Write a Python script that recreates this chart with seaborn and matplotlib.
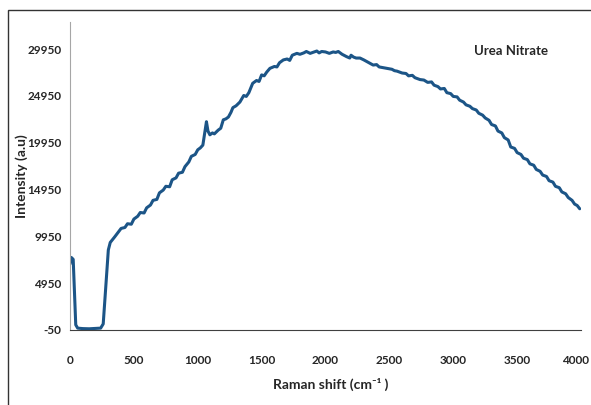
import numpy as np
import pandas as pd
import matplotlib
matplotlib.use("Agg")
import matplotlib.pyplot as plt
import matplotlib.transforms as mtransforms
from matplotlib.patches import Rectangle
import seaborn as sns

# ==========================================
# 1. DATA
# ==========================================
raman_shift = [
    0, 10, 25, 35, 45, 60, 100, 150, 200, 240, 260, 280, 300, 315, 350,
    400, 430, 450, 480, 500, 530, 550, 580, 600, 630, 650, 680, 700, 730,
    750, 780, 800, 830, 850, 880, 900, 930, 950, 980, 1000, 1020, 1040,
    1055, 1068, 1080, 1095, 1115, 1130, 1160, 1180, 1200, 1220, 1240,
    1260, 1275, 1300, 1330, 1360, 1380, 1400, 1430, 1460, 1480, 1500,
    1520, 1540, 1565, 1600, 1620, 1640, 1670, 1700, 1720, 1740, 1776,
    1800, 1830, 1850, 1880, 1900, 1932, 1950, 1970, 2000, 2030, 2060,
    2080, 2100, 2130, 2165, 2190, 2200, 2220, 2240, 2270, 2300, 2320,
    2340, 2373, 2400, 2420, 2440, 2480, 2520, 2540, 2560, 2600, 2630,
    2650, 2680, 2700, 2740, 2770, 2800, 2830, 2850, 2880, 2900, 2930,
    2950, 2980, 3000, 3030, 3050, 3080, 3100, 3130, 3150, 3180, 3200,
    3230, 3250, 3280, 3300, 3330, 3350, 3380, 3400, 3430, 3450, 3480,
    3500, 3530, 3550, 3580, 3600, 3630, 3650, 3680, 3700, 3730, 3750,
    3780, 3800, 3830, 3850, 3880, 3900, 3930, 3950, 3970, 3990,
]
intensity = [
    7000, 7700, 7500, 4000, 500, 150, 100, 80, 120, 150, 600, 4500, 8500,
    9300, 9900, 10800, 10900, 11300, 11250, 11800, 12100, 12500, 12450,
    13000, 13300, 13800, 13900, 14600, 14900, 15300, 15250, 16000, 16200,
    16700, 16800, 17400, 17900, 18500, 18700, 19200, 19400, 19700, 21000,
    22200, 21200, 20800, 21000, 20900, 21300, 21500, 22400, 22500, 22700,
    23200, 23700, 23900, 24300, 25000, 24900, 25300, 26300, 26600, 26500,
    27200, 27100, 27500, 27900, 28100, 28050, 28500, 28800, 28900, 28750,
    29300, 29500, 29400, 29550, 29700, 29500, 29600, 29750, 29550, 29700,
    29650, 29500, 29650, 29600, 29700, 29400, 29150, 29000, 29300, 29100,
    29000, 29000, 28800, 28650, 28500, 28250, 28300, 28050, 28000, 27900,
    27800, 27650, 27600, 27400, 27350, 27100, 27150, 26900, 26700, 26650,
    26400, 26450, 26100, 25950, 25700, 25750, 25300, 25200, 24900, 24850,
    24500, 24300, 24000, 23850, 23600, 23450, 23100, 22900, 22600, 22350,
    21900, 21750, 21200, 21000, 20500, 20250, 19500, 19350, 18900, 18700,
    18300, 18150, 17700, 17550, 17100, 16900, 16500, 16350, 15900, 15750,
    15300, 15150, 14700, 14500, 14100, 13800, 13400, 13250, 12900,
]
df = pd.DataFrame({"shift": raman_shift, "intensity": intensity})

y_ticks = [-50, 4950, 9950, 14950, 19950, 24950, 29950]
x_ticks = [0, 500, 1000, 1500, 2000, 2500, 3000, 3500, 4000]

# ==========================================
# 2. VISUALIZATION
# ==========================================
sns.set_style("white")
plt.rcParams["font.family"] = ["Lato", "DejaVu Sans"]
plt.rcParams["axes.unicode_minus"] = False

fig = plt.figure(figsize=(5.91, 4.05), dpi=100)
ax = fig.add_axes([70 / 591, 1 - 330 / 405, 511 / 591, 308 / 405])

sns.lineplot(data=df, x="shift", y="intensity", ax=ax, color="#1c5587", linewidth=2.2)

ax.set_xlim(0, 4000)
ax.set_ylim(-50, 32850)
ax.set_xticks(x_ticks)
ax.set_yticks(y_ticks)
ax.tick_params(axis="x", direction="out", length=4, pad=14, labelsize=8.5, color="#555555")
ax.tick_params(axis="y", direction="out", length=3, pad=3, labelsize=8.5, color="#999999")
for lab in ax.get_xticklabels() + ax.get_yticklabels():
    lab.set_fontweight("bold")

# Excel pulls the last label inwards so it fits
last = ax.get_xticklabels()[-1]
last.set_transform(last.get_transform() +
                   mtransforms.ScaledTranslation(-5 / 100, 0, fig.dpi_scale_trans))

sns.despine(ax=ax)
ax.spines["left"].set_color("#a6a6a6")
ax.spines["bottom"].set_color("#404040")

ax.set_xlabel("Raman shift (cm\u207b\u00b9 )", fontsize=10, fontweight="bold")
ax.set_ylabel("Intensity (a.u)", fontsize=10, fontweight="bold")
ax.xaxis.set_label_coords(0.51, -0.155)
ax.yaxis.set_label_coords(-0.082, 0.5)

ax.text(0.79, 0.905, "Urea Nitrate", transform=ax.transAxes, fontsize=9.5,
        fontweight="bold", ha="left", va="center")

# outer frame like the original export
fig.patches.append(Rectangle((8 / 591, -0.1), 1.1, 1 - 10 / 405 + 0.1,
                             transform=fig.transFigure, fill=False,
                             edgecolor="#333333", linewidth=1.0))

fig.savefig("out.png", dpi=100)
